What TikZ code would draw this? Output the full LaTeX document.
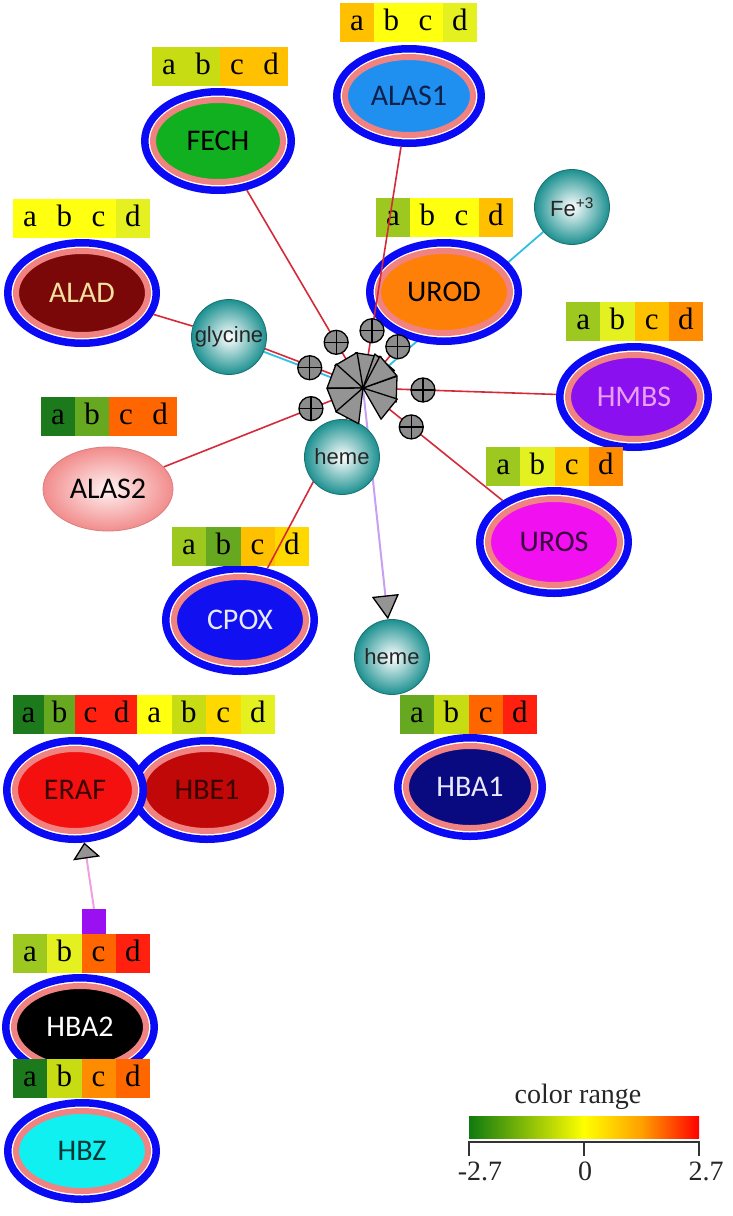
\documentclass[tikz,border=0pt]{standalone}
\usepackage{fontspec}
\setmainfont{Liberation Serif}
\newfontfamily\labfont{Carlito}
\newfontfamily\sphfont{Liberation Sans}
\usetikzlibrary{shapes.geometric,calc,arrows.meta}
\pgfdeclarelayer{bg}\pgfdeclarelayer{fg}
\pgfsetlayers{bg,main,fg}
% line colours
\definecolor{ringblue}{HTML}{0A0AF5}
\definecolor{ringpink}{HTML}{F08282}
\definecolor{edgered}{HTML}{D42A3A}
\definecolor{cyanline}{HTML}{30C0E0}
\definecolor{lilac}{HTML}{C8A0F0}
\definecolor{pinkline}{HTML}{F0A0E0}
\definecolor{sphedge}{HTML}{1A7070}
\definecolor{sphout}{HTML}{1C9090}
% bar colours
\definecolor{cY}{HTML}{FFFF10}
\definecolor{cYG}{HTML}{E4F020}
\definecolor{cLG}{HTML}{C8DC14}
\definecolor{cG1}{HTML}{9CC820}
\definecolor{cG2}{HTML}{66A820}
\definecolor{cDG}{HTML}{1C7A1C}
\definecolor{cOY}{HTML}{FFC000}
\definecolor{cYO}{HTML}{FFD800}
\definecolor{cO}{HTML}{FF8C00}
\definecolor{cOR}{HTML}{FF6600}
\definecolor{cR}{HTML}{FF2010}
% fills
\definecolor{fALASa}{HTML}{2090F0}
\definecolor{fFECH}{HTML}{10B020}
\definecolor{fALAD}{HTML}{7A0808}
\definecolor{fUROD}{HTML}{FF8008}
\definecolor{fHMBS}{HTML}{8A10F0}
\definecolor{fUROS}{HTML}{F010F0}
\definecolor{fCPOX}{HTML}{1010F0}
\definecolor{fHBAa}{HTML}{0A0A80}
\definecolor{fERAF}{HTML}{F51010}
\definecolor{fHBE}{HTML}{C00808}
\definecolor{fHBZ}{HTML}{10F0F0}
\definecolor{tNavy}{HTML}{10204A}
\definecolor{tCream}{HTML}{F5E0A0}
\definecolor{tLilac}{HTML}{E8A0F0}
\definecolor{tPurp}{HTML}{3A0040}
\definecolor{tPale}{HTML}{E8E8FF}
\definecolor{tDRed}{HTML}{3A0000}
\definecolor{tDTeal}{HTML}{003838}
\definecolor{pinkA}{HTML}{FFF2F2}
\definecolor{pinkB}{HTML}{F28C8C}
\definecolor{sqviolet}{HTML}{9A10F0}
\definecolor{lgreen}{HTML}{0F7A0F}
\definecolor{lyellow}{HTML}{FFFF00}
\definecolor{lred}{HTML}{FF0000}
\definecolor{lorange}{HTML}{FFA000}

\tikzset{
  gout/.style={ellipse, draw=ringblue, line width=7.5pt, fill=white, inner sep=0pt},
  gin/.style={ellipse, draw=ringpink, line width=6pt, inner sep=0pt,
    font=\labfont\fontsize{30}{30}\selectfont},
  cell/.style={rectangle, inner sep=0pt, minimum height=39pt, text height=15pt,
    text depth=0pt, font=\fontsize{31}{31}\selectfont, text=black},
  sphere/.style={circle, minimum size=75pt, inner sep=0pt, draw=sphedge, line width=0.8pt,
    shading=radial, inner color=white, outer color=sphout,
    font=\sphfont\fontsize{22}{22}\selectfont, text=black!85},
  edge/.style={draw=edgered, line width=1.6pt},
  cyanedge/.style={draw=cyanline, line width=1.8pt},
  tri/.style={fill=black!42, draw=black, line width=1.3pt, line join=round},
  plusc/.style={circle, minimum size=24pt, inner sep=0pt, fill=black!45, draw=black, line width=1.3pt,
    path picture={\draw[line width=1.3pt] (path picture bounding box.north) -- (path picture bounding box.south)
      (path picture bounding box.west) -- (path picture bounding box.east);}},
  legtext/.style={font=\fontsize{28}{28}\selectfont, text=black!85, inner sep=0pt},
}
% gene ellipse: name, x, y, rx, ry, fill, text colour, label
\newcommand\gene[8]{%
  \node[gout, minimum width={2*#4-7.5}, minimum height={2*#5-7.5}] (#1) at (#2,#3) {};
  \node[gin, fill=#6, text=#7, minimum width={2*#4-24}, minimum height={2*#5-24}] (#1-in) at (#2,#3) {#8};
}
% colour bar: name, xleft, ytop, total width, c1..c4
\newcommand\cbar[8]{%
  \node[cell, fill=#5, minimum width={#4/4}] (#1-a) at ({#2+#4/8},{#3+19.5}) {a};
  \node[cell, fill=#6, minimum width={#4/4}] (#1-b) at ({#2+3*#4/8},{#3+19.5}) {b};
  \node[cell, fill=#7, minimum width={#4/4}] (#1-c) at ({#2+5*#4/8},{#3+19.5}) {c};
  \node[cell, fill=#8, minimum width={#4/4}] (#1-d) at ({#2+7*#4/8},{#3+19.5}) {d};
}

\begin{document}
\begin{tikzpicture}[x=1pt,y=-1pt]
\begin{pgfonlayer}{bg}
\fill[white] (0,0) rectangle (733,1216);
\end{pgfonlayer}
\useasboundingbox (0,0) rectangle (733,1216);

% ---------- genes and bars ----------
\gene{alas1}{409}{96}{76}{51}{fALASa}{tNavy}{ALAS1}
\cbar{balas1}{340}{3}{137}{cOY}{cY}{cY}{cYG}
\gene{fech}{218}{141}{77}{53}{fFECH}{black}{FECH}
\cbar{bfech}{152}{47}{136}{cLG}{cLG}{cOY}{cOY}
\gene{alad}{82}{293}{78}{54}{fALAD}{tCream}{ALAD}
\cbar{balad}{13}{199}{137}{cY}{cY}{cY}{cYG}
\gene{urod}{444}{292}{78}{53}{fUROD}{black}{UROD}
\cbar{burod}{376}{198}{137}{cG1}{cY}{cY}{cOY}
\gene{hmbs}{634}{397}{78}{54}{fHMBS}{tLilac}{HMBS}
\cbar{bhmbs}{566}{302}{137}{cG1}{cYG}{cOY}{cO}
\gene{uros}{554}{542}{78}{55}{fUROS}{tPurp}{UROS}
\cbar{buros}{486}{447}{137}{cG1}{cYG}{cOY}{cO}
\gene{cpox}{240}{620}{78}{55}{fCPOX}{tPale}{CPOX}
\cbar{bcpox}{172}{527}{137}{cG1}{cG2}{cOY}{cYO}
\node[ellipse, draw=pinkB!90!black, line width=0.8pt, shading=radial, inner color=pinkA, outer color=pinkB,
  minimum width=130pt, minimum height=84pt, inner sep=0pt, font=\labfont\fontsize{30}{30}\selectfont]
  (alas2) at (108,489) {ALAS2};
\cbar{balas2}{41}{397}{136}{cDG}{cG2}{cOR}{cOR}
\gene{hba1}{470}{787}{76}{53}{fHBAa}{tPale}{HBA1}
\cbar{bhba1}{400}{695}{137}{cG2}{cLG}{cOR}{cR}
\gene{hbe1}{207}{790}{77}{53}{fHBE}{tDRed}{HBE1}
\gene{eraf}{75}{790}{72}{53}{fERAF}{tDRed}{ERAF}
\cbar{beraf}{13}{695}{124}{cDG}{cG2}{cR}{cR}
\cbar{bhbe1}{137}{695}{138}{cY}{cLG}{cYO}{cYG}
\gene{hba2}{80}{1027}{78}{53}{black}{white}{HBA2}
\cbar{bhba2}{13}{934}{137}{cG1}{cYG}{cOR}{cR}
\gene{hbz}{82}{1151}{78}{52}{fHBZ}{tDTeal}{HBZ}
\cbar{bhbz}{13}{1059}{137}{cDG}{cLG}{cO}{cOR}
\node[rectangle, fill=sqviolet, minimum width=24pt, minimum height=25pt, inner sep=0pt] (sq) at (94,921.5) {};

% ---------- hub and small molecules ----------
\coordinate (hub) at (363,388);
\begin{pgfonlayer}{fg}
\node[sphere] (fe) at (572,207) {Fe\textsuperscript{+3}};
\node[sphere] (gly) at (229,337) {glycine};
\node[sphere] (heme1) at (342,457) {heme};
\node[sphere] (heme2) at (392,657) {heme};
\end{pgfonlayer}

% ---------- connectors ----------
\begin{pgfonlayer}{bg}
\draw[cyanedge] (fe) -- (hub);
\end{pgfonlayer}
\draw[edge] (alas1) -- (hub);
\draw[edge] (fech) -- (hub);
\draw[edge] (urod) -- (hub);
\draw[edge] (hmbs) -- (hub);
\draw[edge] (uros) -- (hub);
\draw[edge] (cpox) -- (hub);
\draw[edge] (alas2) -- (hub);
\draw[edge] (alad) -- (gly);
\draw[edge] ([yshift=2pt]gly.center) -- ([yshift=2pt]hub);
\draw[cyanedge] ([yshift=-1.5pt]gly.center) -- ([yshift=-1.5pt]hub);
\draw[draw=lilac, line width=2pt,
  -{Triangle[length=24pt, width=27pt, fill=black!42, color=black, line width=1.3pt]}] (hub) -- (heme2);
\draw[draw=pinkline, line width=2pt,
  -{Triangle[length=16pt, width=27pt, fill=black!42, color=black, line width=1.3pt]}] (sq.north) -- (eraf.-80);

\begin{pgfonlayer}{fg}
\foreach \n in {alas1,fech,urod,gly,hmbs,alas2,uros,cpox,fe}
  \draw[tri] (hub) -- ($(hub)!36pt!21:(\n)$) -- ($(hub)!36pt!-21:(\n)$) -- cycle;
\foreach \n/\d in {alas1/58,fech/53,urod/54,gly/57,hmbs/60,alas2/56,uros/62}
  \node[plusc] (p-\n) at ($(hub)!\d pt!(\n)$) {};
\end{pgfonlayer}

% ---------- legend ----------
\node[legtext, anchor=base] (lgtitle) at (578,1103) {color range};
\shade[left color=lgreen, right color=lyellow] (469,1116) rectangle (584,1138);
\shade[left color=lyellow, right color=lred, middle color=lorange] (584,1116) rectangle (699,1138);
\draw[line width=1.5pt, black!80] (469,1156) -- (469,1142) -- (699,1142) -- (699,1156)
  (584,1142) -- (584,1156);
\node[legtext, anchor=base] (lgmin) at (480,1180) {-2.7};
\node[legtext, anchor=base] (lgzero) at (585,1180) {0};
\node[legtext, anchor=base] (lgmax) at (706,1180) {2.7};
\end{tikzpicture}
\end{document}
